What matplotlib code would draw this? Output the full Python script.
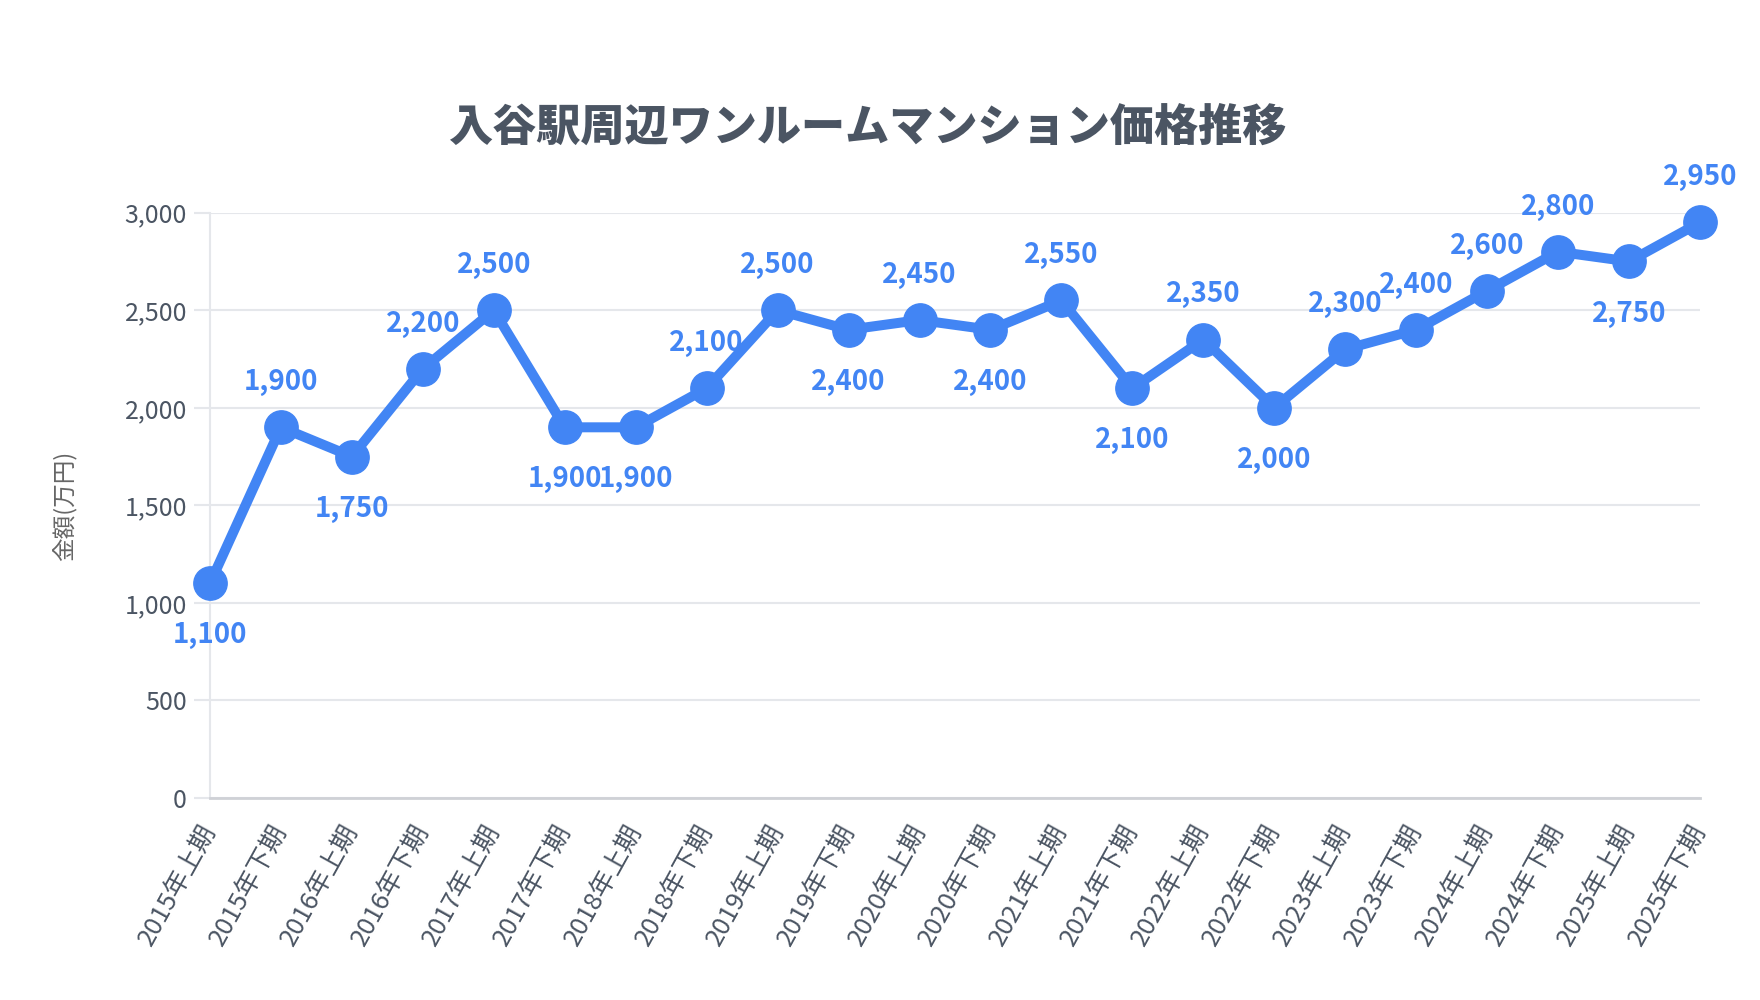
import matplotlib
matplotlib.use("Agg")
import matplotlib.pyplot as plt
from matplotlib.ticker import FuncFormatter
from matplotlib.transforms import ScaledTranslation

plt.rcParams['font.family'] = ['Noto Sans CJK JP', 'DejaVu Sans']

# data
periods = ["2015年上期", "2015年下期", "2016年上期", "2016年下期", "2017年上期", "2017年下期",
           "2018年上期", "2018年下期", "2019年上期", "2019年下期", "2020年上期", "2020年下期",
           "2021年上期", "2021年下期", "2022年上期", "2022年下期", "2023年上期", "2023年下期",
           "2024年上期", "2024年下期", "2025年上期", "2025年下期"]
prices = [1100, 1900, 1750, 2200, 2500, 1900, 1900, 2100, 2500, 2400, 2450, 2400,
          2550, 2100, 2350, 2000, 2300, 2400, 2600, 2800, 2750, 2950]
y_ticks = [0, 500, 1000, 1500, 2000, 2500, 3000]

blue = '#4285F4'
text_gray = '#4b5563'
grid_gray = '#e5e7eb'

fig = plt.figure(figsize=(17.6, 10), dpi=100)
ax = fig.add_axes([210/1760, 1 - 798/1000, 1490/1760, 585.3/1000])

x = list(range(len(periods)))
ax.plot(x, prices, color=blue, linewidth=7.2, marker='o', markersize=24,
        markerfacecolor=blue, markeredgecolor=blue, clip_on=False, zorder=3)

# labels: below for local minima, above otherwise
for i, v in enumerate(prices):
    left = prices[i-1] if i > 0 else None
    right = prices[i+1] if i < len(prices)-1 else None
    below = (left is None or v <= left) and (right is None or v <= right)
    dy = -37.5 if below else 32.5
    ax.annotate(f'{v:,}', (i, v), xytext=(0, dy), textcoords='offset points',
                ha='center', va='center', fontsize=20, fontweight='bold',
                color=blue, zorder=4, annotation_clip=False)

ax.set_xlim(0, len(periods) - 1)
ax.set_ylim(0, 3000)
ax.set_yticks(y_ticks)
ax.yaxis.set_major_formatter(FuncFormatter(lambda v, p: f'{int(v):,}'))
ax.set_xticks(x)
ax.set_xticklabels(periods, rotation=61, ha='right', va='center', rotation_mode='anchor')
shift = ScaledTranslation(5/100, 0, fig.dpi_scale_trans)
for lab in ax.get_xticklabels():
    lab.set_transform(lab.get_transform() + shift)

ax.grid(axis='y', color=grid_gray, linewidth=1.5)
ax.set_axisbelow(True)
for s in ['top', 'right']:
    ax.spines[s].set_visible(False)
ax.spines['left'].set_color(grid_gray)
ax.spines['left'].set_linewidth(1.5)
ax.spines['bottom'].set_color('#cfd1d6')
ax.spines['bottom'].set_linewidth(2)

ax.tick_params(axis='y', length=11.5, width=1.5, color=grid_gray, labelsize=18,
               labelcolor=text_gray, pad=5)
ax.tick_params(axis='x', length=0, labelsize=18.5, labelcolor=text_gray, pad=20)

fig.text(64/1760, 1 - 506/1000, '金額(万円)', rotation=90, ha='center', va='center',
         fontsize=17, color='#666666')

fig.text(0.493, 1 - 127/1000, '入谷駅周辺ワンルームマンション価格推移', ha='center', va='center',
         fontsize=31.8, fontweight='heavy', color=text_gray)

fig.savefig('out.png', dpi=100, facecolor='white')
